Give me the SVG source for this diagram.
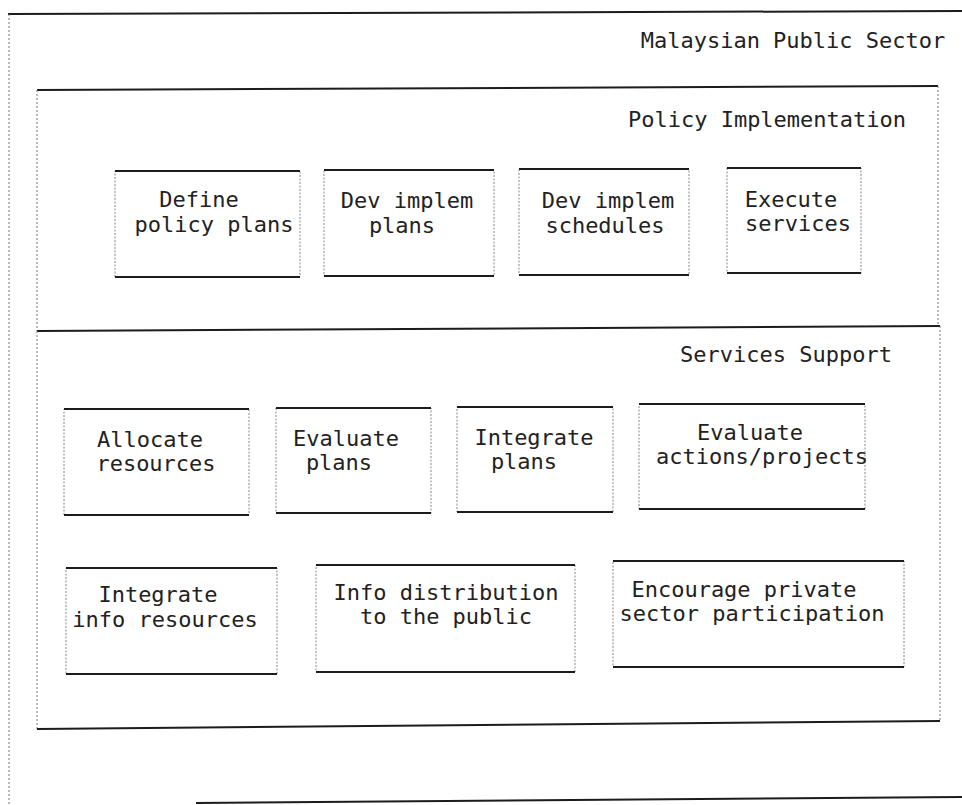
<svg xmlns="http://www.w3.org/2000/svg" width="962" height="805" viewBox="0 0 962 805">
<style>
.bg{fill:#ffffff}
.solid{stroke:#1c1c1c;stroke-width:2;fill:none}
.dot{stroke:#777;stroke-width:1;stroke-dasharray:2 2;fill:none}
.box{stroke:#888;stroke-width:1;stroke-dasharray:2 1.5;fill:none}
text{font-family:"DejaVu Sans Mono","Liberation Mono",monospace;font-size:22px;fill:#222;text-anchor:middle}
</style>
<rect class="bg" x="0" y="0" width="962" height="805"/>

<g id="container-malaysian-public-sector">
  <line class="solid" x1="8" y1="14" x2="962" y2="11"/>
  <line class="dot" x1="9" y1="14" x2="9" y2="805"/>
  <line class="solid" x1="196" y1="803" x2="962" y2="797"/>
  <text x="793" y="48">Malaysian Public Sector</text>
</g>

<g id="container-policy-implementation">
  <line class="solid" x1="37" y1="90" x2="938" y2="86"/>
  <line class="dot" x1="37" y1="90" x2="37" y2="331"/>
  <line class="dot" x1="938" y1="86" x2="938" y2="326"/>
  <line class="solid" x1="37" y1="331" x2="940" y2="326"/>
  <text x="767" y="127">Policy Implementation</text>
</g>

<g id="container-services-support">
  <line class="dot" x1="37" y1="331" x2="37" y2="729"/>
  <line class="dot" x1="940" y1="326" x2="940" y2="721"/>
  <line class="solid" x1="37" y1="729" x2="940" y2="721"/>
  <text x="786" y="362">Services Support</text>
</g>

<g id="node-define-policy-plans">
  <rect class="box" x="115" y="171" width="185" height="106"/>
  <path class="solid" d="M115 171H300M115 277H300"/>
  <text x="199" y="207">Define</text>
  <text x="214" y="232">policy plans</text>
</g>
<g id="node-dev-implem-plans">
  <rect class="box" x="324" y="170" width="170" height="106"/>
  <path class="solid" d="M324 170H494M324 276H494"/>
  <text x="407" y="208">Dev implem</text>
  <text x="402" y="233">plans</text>
</g>
<g id="node-dev-implem-schedules">
  <rect class="box" x="519" y="169" width="170" height="106"/>
  <path class="solid" d="M519 169H689M519 275H689"/>
  <text x="608" y="208">Dev implem</text>
  <text x="605" y="233">schedules</text>
</g>
<g id="node-execute-services">
  <rect class="box" x="727" y="168" width="134" height="105"/>
  <path class="solid" d="M727 168H861M727 273H861"/>
  <text x="791" y="207">Execute</text>
  <text x="798" y="231">services</text>
</g>

<g id="node-allocate-resources">
  <rect class="box" x="64" y="409" width="185" height="106"/>
  <path class="solid" d="M64 409H249M64 515H249"/>
  <text x="150" y="447">Allocate</text>
  <text x="156" y="471">resources</text>
</g>
<g id="node-evaluate-plans">
  <rect class="box" x="276" y="408" width="155" height="105"/>
  <path class="solid" d="M276 408H431M276 513H431"/>
  <text x="346" y="446">Evaluate</text>
  <text x="339" y="470">plans</text>
</g>
<g id="node-integrate-plans">
  <rect class="box" x="457" y="407" width="156" height="105"/>
  <path class="solid" d="M457 407H613M457 512H613"/>
  <text x="534" y="445">Integrate</text>
  <text x="524" y="469">plans</text>
</g>
<g id="node-evaluate-actions-projects">
  <rect class="box" x="639" y="404" width="226" height="105"/>
  <path class="solid" d="M639 404H865M639 509H865"/>
  <text x="750" y="440">Evaluate</text>
  <text x="762" y="464">actions/projects</text>
</g>

<g id="node-integrate-info-resources">
  <rect class="box" x="66" y="568" width="211" height="106"/>
  <path class="solid" d="M66 568H277M66 674H277"/>
  <text x="158" y="602">Integrate</text>
  <text x="165" y="627">info resources</text>
</g>
<g id="node-info-distribution">
  <rect class="box" x="316" y="565" width="259" height="107"/>
  <path class="solid" d="M316 565H575M316 672H575"/>
  <text x="446" y="600">Info distribution</text>
  <text x="446" y="624">to the public</text>
</g>
<g id="node-encourage-private-sector">
  <rect class="box" x="613" y="561" width="291" height="106"/>
  <path class="solid" d="M613 561H904M613 667H904"/>
  <text x="744" y="597">Encourage private</text>
  <text x="752" y="621">sector participation</text>
</g>

<g id="connectors"></g>
</svg>
